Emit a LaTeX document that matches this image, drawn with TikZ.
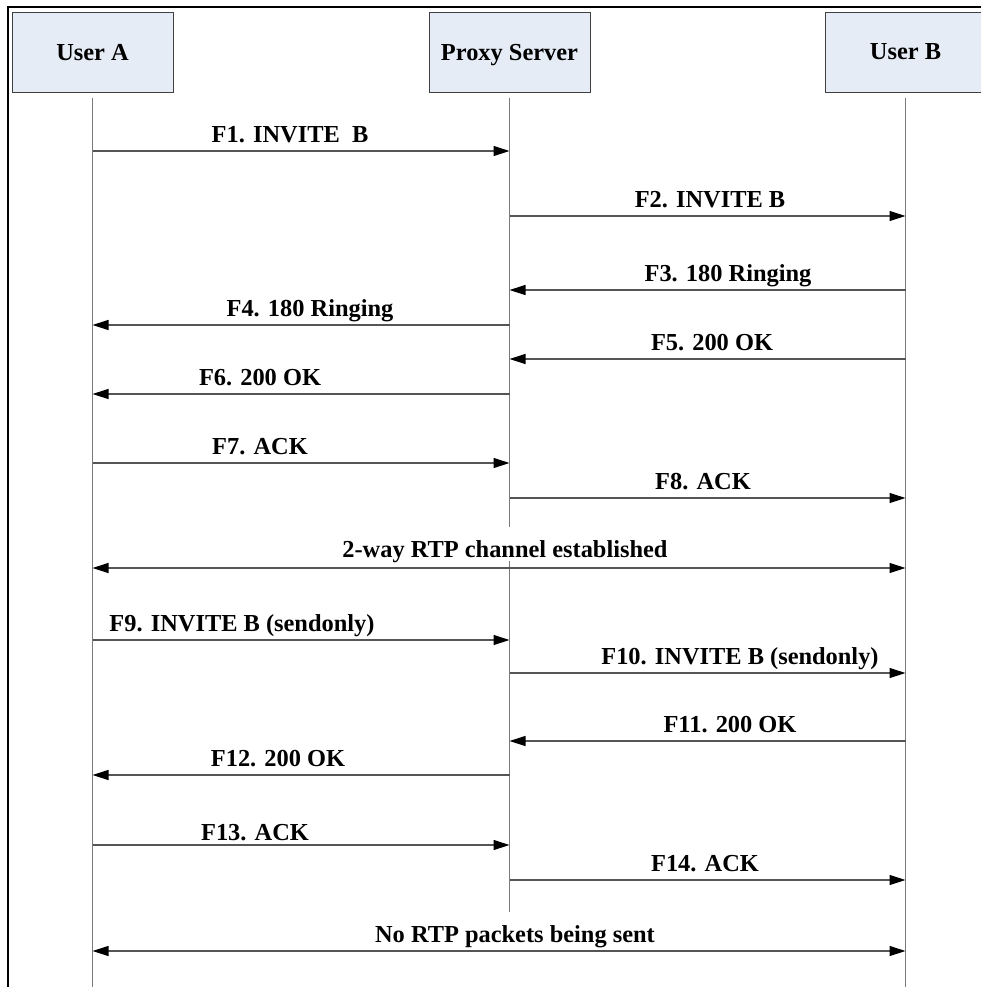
\documentclass[tikz,border=0pt]{standalone}
\usepackage{fontspec}
\setmainfont{Liberation Serif}
\usepackage{tikz}
\usetikzlibrary{arrows.meta,positioning,calc}
\definecolor{BoxFill}{HTML}{E6ECF6}
\definecolor{BoxLine}{HTML}{404040}
\definecolor{Life}{HTML}{7A7A7A}
\definecolor{Msg}{HTML}{555555}
\tikzset{
 actor/.style={draw=BoxLine, line width=0.5pt, fill=BoxFill, minimum width=80.5pt, minimum height=40pt, text depth=0pt, font=\fontsize{12.2}{14}\selectfont\bfseries},
 life/.style={draw=Life, line width=0.6pt},
 msg/.style={draw=Msg, line width=0.6pt, -{Triangle[length=8pt,width=5pt,color=black]}},
 both/.style={msg, {Triangle[length=8pt,width=5pt,color=black]}-{Triangle[length=8pt,width=5pt,color=black]}},
 lbl/.style={anchor=base, inner sep=0pt, font=\fontsize{12.2}{14}\selectfont\bfseries},
 frame/.style={draw=black, line width=1.25pt}
}

\begin{document}
\begin{tikzpicture}[x=0.5pt,y=-0.5pt]
\useasboundingbox (0,0) rectangle (981,987);
\draw[frame] (8,990) -- (8,7) -- (990,7);

% actors
\node[actor] (ua) at (92.5,52) {User A};
\node[actor] (px) at (509.5,52) {Proxy Server};
\node[actor] (ub) at (905.5,52) {User B};

% lifelines
\coordinate (ua end) at (92.5,987);
\coordinate (ub end) at (905.5,987);
\coordinate (px cut) at (509.5,527);
\coordinate (px on) at (509.5,561);
\coordinate (px end) at (509.5,912);
\draw[life] ([yshift=-2.5pt]ua.south) -- (ua end);
\draw[life] ([yshift=-2.5pt]ub.south) -- (ub end);
\draw[life] ([yshift=-2.5pt]px.south) -- (px cut);
\draw[life] (px on) -- (px end);

% messages
\foreach \i/\y/\s/\t/\lx/\dy/\lab in {
1/151/ua/px/290/9/{F1. INVITE\ \ B},
2/216/px/ub/710/9/{F2. INVITE B},
3/290/ub/px/728/9/{F3. 180 Ringing},
4/325/px/ua/310/9/{F4. 180 Ringing},
5/359/ub/px/712/9/{F5. 200 OK},
6/394/px/ua/260/9/{F6. 200 OK},
7/463/ua/px/260/9/{F7. ACK},
8/498/px/ub/703/9/{F8. ACK},
9/640/ua/px/242/9/{F9. INVITE B (sendonly)},
10/673/px/ub/740/9/{F10. INVITE B (sendonly)},
11/741/ub/px/730/9/{F11. 200 OK},
12/775/px/ua/278/9/{F12. 200 OK},
13/845/ua/px/255/5/{F13. ACK},
14/880/px/ub/705/9/{F14. ACK}}{
  \coordinate (m\i s) at (\s |- 0,\y);
  \coordinate (m\i t) at (\t |- 0,\y);
  \draw[msg] (m\i s) -- (m\i t);
  \node[lbl] (l\i) at (\lx,\y-\dy) {\lab};
}

% media
\coordinate (rtp a) at (ua |- 0,568);
\coordinate (rtp b) at (ub |- 0,568);
\draw[both] (rtp a) -- (rtp b);
\node[lbl] (rtp) at (505,557) {2-way RTP channel established};

\coordinate (none a) at (ua |- 0,951);
\coordinate (none b) at (ub |- 0,951);
\draw[both] (none a) -- (none b);
\node[lbl] (none) at (515,942) {No RTP packets being sent};
\end{tikzpicture}
\end{document}
